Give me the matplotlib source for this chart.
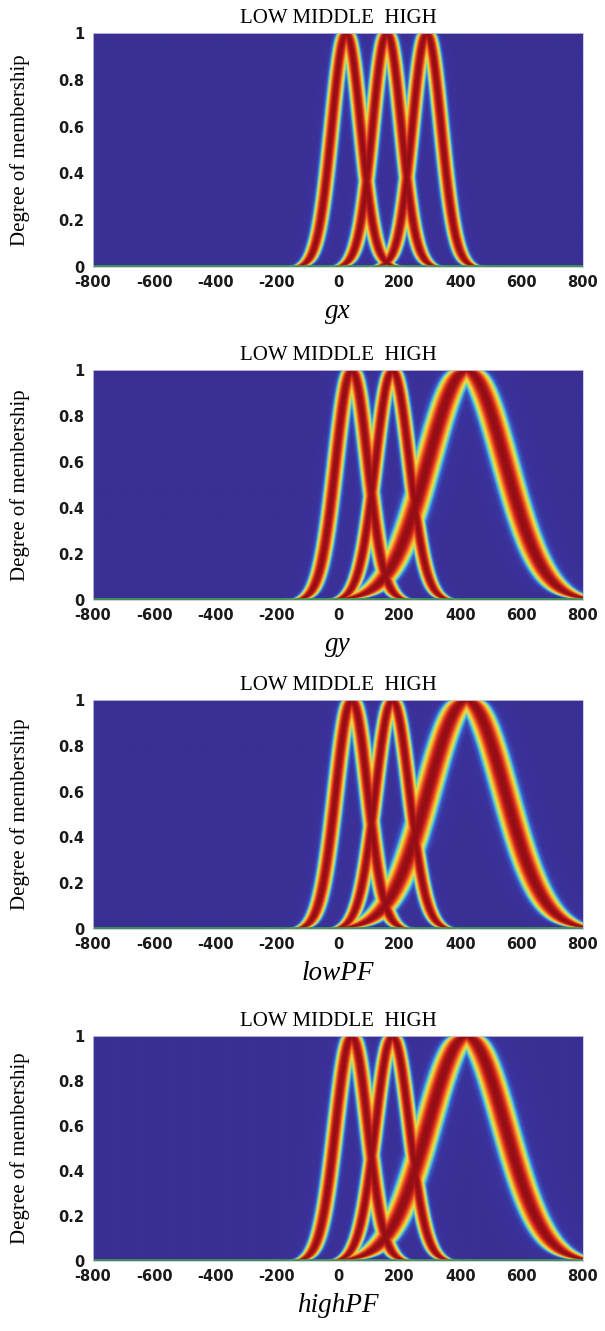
import numpy as np
import matplotlib
matplotlib.use("Agg")
import matplotlib.pyplot as plt
from matplotlib.colors import LinearSegmentedColormap

# ---- data ----
set_labels = ["LOW", "MIDDLE", "HIGH"]
x_ticks = [-800, -600, -400, -200, 0, 200, 400, 600, 800]
y_ticks = [0, 0.2, 0.4, 0.6, 0.8, 1]
y_tick_labels = ["0", "0.2", "0.4", "0.6", "0.8", "1"]

panel_names = ["gx", "gy", "lowPF", "highPF"]

# centre, spread (sigma) and band half-width of each fuzzy set
gx_centers = [27, 160, 290]
gx_sigmas = [47, 47, 47]
gx_band = [26, 26, 26]

gy_centers = [45, 178, 420]
gy_sigmas = [52, 55, 125]
gy_band = [28, 26, 46]

lowpf_centers = [45, 178, 420]
lowpf_sigmas = [52, 55, 125]
lowpf_band = [28, 26, 46]

highpf_centers = [45, 178, 420]
highpf_sigmas = [52, 55, 125]
highpf_band = [28, 26, 46]

panels = [
    (gx_centers, gx_sigmas, gx_band),
    (gy_centers, gy_sigmas, gy_band),
    (lowpf_centers, lowpf_sigmas, lowpf_band),
    (highpf_centers, highpf_sigmas, highpf_band),
]

# ---- colormap (jet-like on a violet-blue background) ----
cmap = LinearSegmentedColormap.from_list("t2jet", [
    (0.00, "#3a2f93"),
    (0.10, "#3b35a2"),
    (0.22, "#3a5cc8"),
    (0.32, "#4cc8e4"),
    (0.48, "#f0e43a"),
    (0.64, "#f2902a"),
    (0.80, "#dc2e1e"),
    (0.93, "#a81216"),
    (1.00, "#930f15"),
])

W, H = 605, 1331
fig = plt.figure(figsize=(W / 100, H / 100), dpi=100)

boxes = [(33, 267), (370, 600), (700, 929), (1036, 1261)]
left_px, right_px = 93, 583

xg = np.linspace(-800, 800, 1400)
yg = np.linspace(0.0015, 1.0, 600)
X, Y = np.meshgrid(xg, yg)
D = np.sqrt(-2.0 * np.log(Y))


def ridge(dx, half):
    s = half / 1.51
    core = np.exp(-0.5 * (dx / s) ** 2)
    halo = 0.10 * np.exp(-0.5 * (dx / (2.0 * s)) ** 2)
    return np.maximum(core, halo)


for (top, bot), name, (cs, ss, hs) in zip(boxes, panel_names, panels):
    ax = fig.add_axes([left_px / W, 1 - bot / H, (right_px - left_px) / W, (bot - top) / H])
    Z = np.zeros_like(X)
    for m, s, h in zip(cs, ss, hs):
        g = np.maximum(ridge(X - (m - s * D), h), ridge(X - (m + s * D), h))
        Z = np.maximum(Z, g)
    ax.imshow(Z, extent=[-800, 800, 0, 1], origin="lower", aspect="auto",
              cmap=cmap, vmin=0, vmax=1, interpolation="bilinear")
    ax.axhline(0.003, color="#3fa050", lw=1.2)
    ax.set_xlim(-800, 800)
    ax.set_ylim(0, 1)
    ax.set_xticks(x_ticks)
    ax.set_xticklabels([str(t) for t in x_ticks])
    ax.set_yticks(y_ticks)
    ax.set_yticklabels(y_tick_labels)
    ax.tick_params(length=0, pad=6, labelsize=10.5, colors="#1a1a1a")
    for lab in ax.get_xticklabels() + ax.get_yticklabels():
        lab.set_family("DejaVu Sans")
        lab.set_fontweight("bold")
    for sp in ax.spines.values():
        sp.set_color("#c9c6e2")
        sp.set_linewidth(0.6)
    ax.set_ylabel("Degree of membership", family="Liberation Serif", fontsize=15)
    ax.yaxis.set_label_coords(-0.128, 0.5)
    ax.set_xlabel(name, family="Liberation Serif", style="italic", fontsize=19.5, labelpad=6)
    ax.set_title("LOW MIDDLE  HIGH", family="Liberation Serif", fontsize=15, pad=7)

fig.savefig("out.png", dpi=100)
